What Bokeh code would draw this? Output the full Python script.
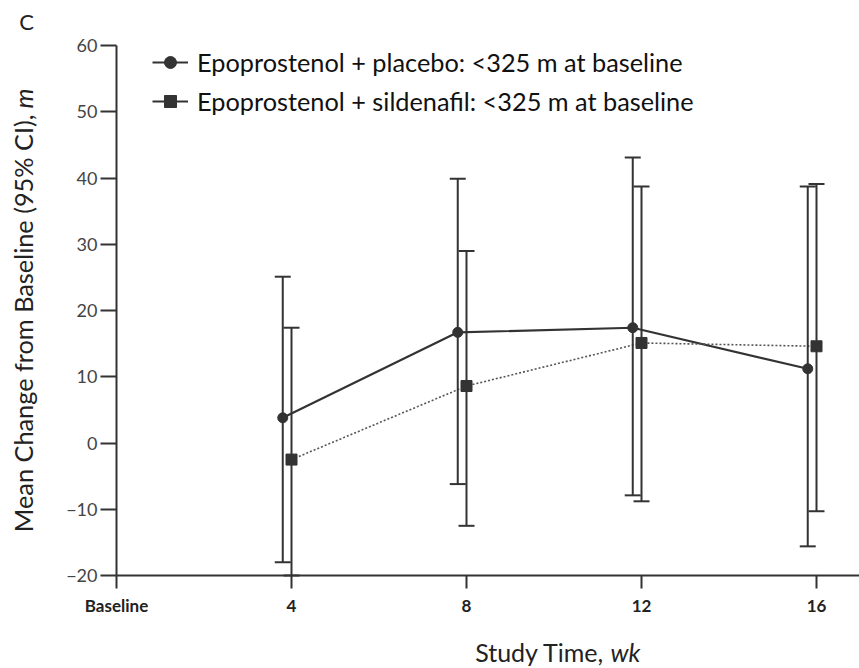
import math
from bokeh.plotting import figure
from bokeh.models import (ColumnDataSource, Whisker, TeeHead, FixedTicker, Label,
                          Legend, LegendItem, Range1d, LinearAxis)
from bokeh.transform import dodge
from bokeh.embed import file_html
from bokeh.resources import INLINE

# ---- data ----
weeks = [4, 8, 12, 16]
placebo_mean = [3.8, 16.7, 17.4, 11.2]
placebo_lower = [-18.0, -6.2, -7.9, -15.6]
placebo_upper = [25.1, 39.9, 43.1, 38.7]
sild_mean = [-2.5, 8.6, 15.1, 14.6]
sild_lower = [-20.0, -12.5, -8.8, -10.3]
sild_upper = [17.4, 29.0, 38.7, 39.1]
x_ticks = [0, 4, 8, 12, 16]
x_tick_labels = ["Baseline", "4", "8", "12", "16"]
y_ticks = [-20, -10, 0, 10, 20, 30, 40, 50, 60]
series_labels = ["Epoprostenol + placebo: <325 m at baseline",
                 "Epoprostenol + sildenafil: <325 m at baseline"]

FONT = "Lato"
INK = "#333333"
W, H = 859, 668

# layout: axes cross at pixel (116, 575); y=60 at pixel row 45
AX_X, AX_Y, TOP_Y = 116, 575, 45
Y_LO, Y_HI = -20, 60
PX_PER_Y = (AX_Y - TOP_Y) / (Y_HI - Y_LO)
PX_PER_X = 43.75


def dx(px):
    return (px - AX_X) / PX_PER_X


def dy(py):
    return Y_LO + (AX_Y - py) / PX_PER_Y


p = figure(width=W, height=H, output_backend="svg", toolbar_location=None,
           x_range=Range1d(dx(0), dx(W)), y_range=Range1d(dy(H), dy(0)),
           x_axis_location=None, y_axis_location=None,
           min_border=0)
p.outline_line_color = None
p.grid.visible = False
p.background_fill_color = "white"

src_p = ColumnDataSource(dict(week=weeks, mean=placebo_mean, lower=placebo_lower, upper=placebo_upper))
src_s = ColumnDataSource(dict(week=weeks, mean=sild_mean, lower=sild_lower, upper=sild_upper))

xp = dodge("week", -0.2)
xs = dodge("week", 0.0)

# lines
p.line(x=xp, y="mean", source=src_p, line_color=INK, line_width=2.2)
p.line(x=xs, y="mean", source=src_s, line_color="#555555", line_width=1.6, line_dash="2 2")

# error bars
for src, xx in ((src_p, xp), (src_s, xs)):
    w = Whisker(base=xx, upper="upper", lower="lower", source=src, dimension="height",
                line_color=INK, line_width=2,
                upper_head=TeeHead(size=16, line_color=INK, line_width=2),
                lower_head=TeeHead(size=16, line_color=INK, line_width=2))
    w.level = "glyph"
    p.add_layout(w)

# markers
p.scatter(x=xp, y="mean", source=src_p, marker="circle", size=10,
          fill_color=INK, line_color=INK)
p.scatter(x=xs, y="mean", source=src_s, marker="square", size=11,
          fill_color=INK, line_color=INK)

# legend proxies (solid lines in the legend), not shown in the plot area
proxy = ColumnDataSource(dict(x=[float("nan")], y=[float("nan")]))
lg1 = p.line(x="x", y="y", source=proxy, line_color=INK, line_width=2)
lg2 = p.line(x="x", y="y", source=proxy, line_color=INK, line_width=2)
lgm1 = p.scatter(x="x", y="y", source=proxy, marker="circle", size=8, fill_color=INK, line_color=INK)
lgm2 = p.scatter(x="x", y="y", source=proxy, marker="square", size=12, fill_color=INK, line_color=INK)

legend = Legend(items=[LegendItem(label=series_labels[0], renderers=[lg1, lgm1]),
                       LegendItem(label=series_labels[1], renderers=[lg2, lgm2])],
                location=(152, H - 47 - 69))
legend.glyph_width = 36
legend.glyph_height = 30
legend.label_height = 30
legend.spacing = 9
legend.padding = 0
legend.margin = 0
legend.label_standoff = 9
legend.border_line_alpha = 0
legend.background_fill_alpha = 0
legend.label_text_font = FONT
legend.label_text_font_size = "25.3px"
legend.label_text_color = "#111111"
p.add_layout(legend)

# axes (drawn at the data origin; real Bokeh axes)
xa = LinearAxis(fixed_location=Y_LO, bounds=(0, dx(W)))
xa.ticker = FixedTicker(ticks=x_ticks)
xa.major_label_overrides = {t: l for t, l in zip(x_ticks, x_tick_labels)}
xa.minor_tick_line_color = None
xa.major_tick_in = 0
xa.major_tick_out = 13
xa.axis_line_width = 2
xa.axis_line_color = INK
xa.major_tick_line_width = 2
xa.major_tick_line_color = INK
xa.major_label_text_font = FONT
xa.major_label_text_font_size = "17px"
xa.major_label_text_font_style = "bold"
xa.major_label_text_color = "#222222"
xa.major_label_standoff = 6
p.add_layout(xa, "below")

ya = LinearAxis(fixed_location=0, bounds=(Y_LO, Y_HI))
ya.ticker = FixedTicker(ticks=y_ticks)
ya.minor_tick_line_color = None
ya.major_tick_in = 0
ya.major_tick_out = 16
ya.axis_line_width = 2
ya.axis_line_color = INK
ya.major_tick_line_width = 2
ya.major_tick_line_color = INK
ya.major_label_text_font = FONT
ya.major_label_text_font_size = "18px"
ya.major_label_text_color = "#444444"
ya.major_label_standoff = 3
p.add_layout(ya, "left")

# texts
TXT = dict(text_font=FONT, text_color="#222222")
p.add_layout(Label(x=dx(26), y=dy(21), text="C", text_align="center", text_baseline="middle",
                   text_font_size="22px", **TXT))
p.add_layout(Label(x=dx(22), y=dy(114), text="Mean Change from Baseline (95% CI),", angle=math.pi / 2,
                   text_align="right", text_baseline="middle", text_font_size="25.3px", **TXT))
p.add_layout(Label(x=dx(22), y=dy(108), text="m", angle=math.pi / 2,
                   text_align="left", text_baseline="middle", text_font_style="italic",
                   text_font_size="25.3px", **TXT))
p.add_layout(Label(x=dx(604), y=dy(651), text="Study Time,", text_align="right", text_baseline="middle",
                   text_font_size="25px", **TXT))
p.add_layout(Label(x=dx(610), y=dy(651), text="wk", text_align="left", text_baseline="middle",
                   text_font_style="italic", text_font_size="25px", **TXT))

open("out.html", "w").write(file_html(p, INLINE))
